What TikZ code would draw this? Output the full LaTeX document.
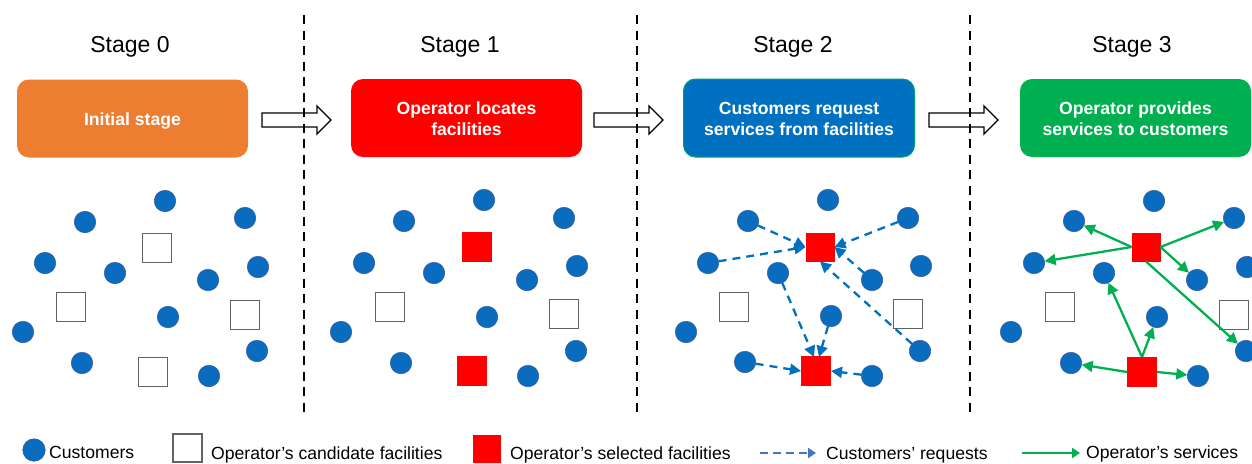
\documentclass[tikz,border=0pt]{standalone}
\usepackage{fontspec}
\setmainfont{Liberation Sans}
\usetikzlibrary{arrows.meta}
\definecolor{custblue}{HTML}{0A6CBE}
\definecolor{custedge}{HTML}{3F5F9F}
\definecolor{reqblue}{HTML}{0070C0}
\definecolor{legblue}{HTML}{4472C4}
\definecolor{svcgreen}{HTML}{00B050}
\definecolor{candgray}{HTML}{626262}
\definecolor{boxorange}{HTML}{ED7D31}
\newcommand{\topgap}{\rule{0pt}{15pt}}
\tikzset{
  cust/.style={circle,fill=custblue,draw=custedge,line width=0.6pt,minimum size=21.5pt,inner sep=0pt,outer sep=0pt},
  cand/.style={rectangle,fill=white,draw=candgray,line width=1.8pt,minimum size=29pt,inner sep=0pt,outer sep=0pt},
  sel/.style={rectangle,fill=red,minimum size=30pt,inner sep=0pt,outer sep=0pt},
  stagebox/.style={rectangle,rounded corners=12pt,minimum width=231pt,minimum height=78pt,inner sep=0pt,align=center,text=white,font=\fontsize{17.6}{21}\selectfont\bfseries},
  stagetitle/.style={font=\fontsize{23}{27}\selectfont,inner sep=0pt},
  legtext/.style={font=\fontsize{17.6}{20}\selectfont,anchor=base west,inner sep=0pt},
  req/.style={draw=reqblue,line width=2.3pt,dash pattern=on 8pt off 6pt,-{Triangle[length=11pt,width=11pt]}},
  svc/.style={draw=svcgreen,line width=2.3pt,-{Triangle[length=11pt,width=11pt]}},
  blockarrow/.style={draw=black,fill=white,line width=1.3pt},
  divider/.style={draw=black,line width=2.2pt,dash pattern=on 9pt off 6.5pt}
}
\begin{document}
\begin{tikzpicture}[x=1pt,y=-1pt]
\useasboundingbox (0,0) rectangle (1252,463);
% titles
\node[stagetitle] (t0) at (130,47) {Stage 0};
\node[stagetitle] (t1) at (460,47) {Stage 1};
\node[stagetitle] (t2) at (793,47) {Stage 2};
\node[stagetitle] (t3) at (1132,47) {Stage 3};
% stage boxes
\node[stagebox,fill=boxorange] (b0) at (132.5,118.5) {\rule{0pt}{17pt}Initial stage};
\node[stagebox,fill=red] (b1) at (466.5,118) {\topgap Operator locates\\facilities};
\node[stagebox,fill=reqblue,draw=svcgreen!70!reqblue,line width=1pt] (b2) at (799,118) {\topgap Customers request\\services from facilities};
\node[stagebox,fill=svcgreen] (b3) at (1135.5,118) {\topgap Operator provides\\services to customers};
% block arrows
\foreach \xa in {262,594,929}{
  \draw[blockarrow] (\xa,113) -- ++(55,0) -- ++(0,-7) -- ++(14,14) -- ++(-14,14) -- ++(0,-7) -- ++(-55,0) -- cycle;
}
% dividers
\coordinate (d1a) at (304,15); \coordinate (d1b) at (304,412);
\coordinate (d2a) at (637,15); \coordinate (d2b) at (637,412);
\coordinate (d3a) at (970,15); \coordinate (d3b) at (970,412);
\draw[divider] (d1a) -- (d1b);
\draw[divider] (d2a) -- (d2b);
\draw[divider] (d3a) -- (d3b);
% stage 0
\foreach \n/\px/\py in {a/165/201,b/245/218,c/85/222,d/45/263,e/115/273,f/208/280,g/258/267,h/168/317,i/23/332,j/82/363,k/209/376,l/257/351}
  \node[cust] (s0\n) at (\px,\py) {};
\node[cand] (s0p) at (157,248) {};
\node[cand] (s0q) at (71,307) {};
\node[cand] (s0r) at (245,315) {};
\node[cand] (s0s) at (153,372) {};
% stage 1
\foreach \n/\px/\py in {a/484/200,b/564/218,c/404/221,d/364/263,e/434/273,f/527/280,g/577/266,h/487/317,i/341/332,j/401/363,k/528/376,l/576/351}
  \node[cust] (s1\n) at (\px,\py) {};
\node[sel] (s1p) at (477,247) {};
\node[sel] (s1s) at (472,371) {};
\node[cand] (s1q) at (390,307) {};
\node[cand] (s1r) at (564,314) {};
% stage 2
\foreach \n/\px/\py in {a/828/200,b/908/218,c/748/221,d/708/263,e/778/273,f/872/280,g/921/266,h/831/316,i/686/332,j/745/362,k/872/376,l/920/351}
  \node[cust] (s2\n) at (\px,\py) {};
\node[sel,minimum size=29pt] (s2p) at (820,247) {};
\node[sel] (s2s) at (816,371) {};
\node[cand] (s2q) at (734,307) {};
\node[cand] (s2r) at (908,314) {};
\coordinate (s2sl) at ([xshift=-2pt,yshift=-1pt]s2s.north);
\coordinate (s2sr) at ([xshift=3pt,yshift=-1pt]s2s.north);
\draw[req] (s2c) -- (s2p.west);
\draw[req] (s2d) -- (s2p.west);
\draw[req] (s2b) -- (s2p.east);
\draw[req] (s2f) -- (s2p.east);
\draw[req] (s2l) -- (s2p.south);
\draw[req] (s2e) -- (s2sl);
\draw[req] (s2h) -- (s2sr);
\draw[req] (s2j) -- (s2s.west);
\draw[req] (s2k) -- (s2s.east);
% stage 3
\foreach \n/\px/\py in {a/1154/201,b/1234/218,c/1074/221,d/1034/263,e/1104/273,f/1197/280,g/1247/267,h/1157/317,i/1011/332,j/1071/363,k/1198/376,l/1246/351}
  \node[cust] (s3\n) at (\px,\py) {};
\node[sel,minimum size=29pt] (s3p) at (1146,247) {};
\node[sel] (s3s) at (1142,372) {};
\node[cand] (s3q) at (1060,307) {};
\node[cand] (s3r) at (1234,315) {};
\draw[svc] (s3p.west) -- (s3c);
\draw[svc] (s3p.west) -- (s3d);
\draw[svc] (s3p.east) -- (s3b);
\draw[svc] (s3p.east) -- (s3f);
\draw[svc] (s3p.south) -- (s3l);
\draw[svc] (s3s.north) -- (s3e);
\draw[svc] (s3s.north) -- (s3h);
\draw[svc] (s3s.west) -- (s3j);
\draw[svc] (s3s.east) -- (s3k);
% legend
\node[cust,minimum size=22.5pt] (lc) at (34,450) {};
\node[legtext] (lct) at (49,458) {Customers};
\node[cand,minimum size=28.5pt] (lq) at (187.5,448) {};
\node[legtext] (lqt) at (211,459) {Operator’s candidate facilities};
\node[sel,minimum size=28pt] (lp) at (487,449) {};
\node[legtext] (lpt) at (510,459) {Operator’s selected facilities};
\coordinate (lra) at (760,453); \coordinate (lrb) at (816,453);
\draw[draw=legblue,line width=2.3pt,dash pattern=on 8pt off 5pt,-{Triangle[length=8pt,width=10pt]}] (lra) -- (lrb);
\node[legtext] (lrt) at (826,459) {Customers’ requests};
\coordinate (lsa) at (1022,453); \coordinate (lsb) at (1080,453);
\draw[svc,-{Triangle[length=8pt,width=10pt]}] (lsa) -- (lsb);
\node[legtext] (lst) at (1086,458) {Operator’s services};
\end{tikzpicture}
\end{document}
